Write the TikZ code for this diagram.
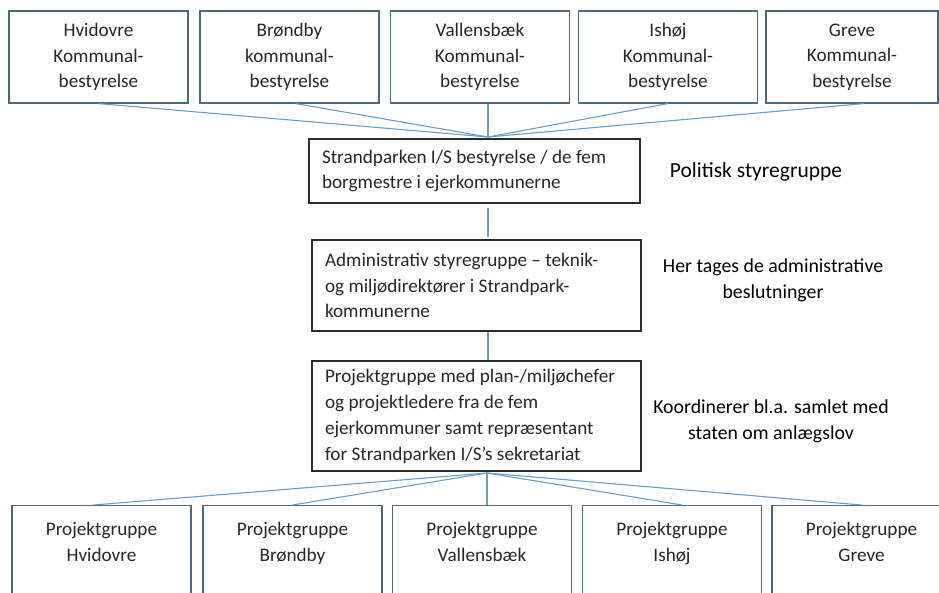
\documentclass[tikz,border=0pt]{standalone}
\usepackage{fontspec}
\setmainfont{Carlito}
\definecolor{linkblue}{HTML}{6A9AC6}
\definecolor{boxblue}{HTML}{4F6680}
\definecolor{boxdark}{HTML}{2B2B2B}
\definecolor{textdark}{HTML}{262626}
\begin{document}
\begin{tikzpicture}[x=1pt,y=-1pt,
  font=\fontsize{19.2}{25.5}\selectfont, text=textdark,
  kommune/.style={draw=boxblue, line width=1.1pt, align=center,
    minimum width=179pt, minimum height=92pt, inner sep=0pt},
  styrebox/.style={draw=boxdark, line width=1.3pt, align=flush left,
    inner xsep=13pt, inner ysep=0pt},
  gruppe/.style={draw=boxblue, line width=1.1pt, align=center, anchor=north,
    minimum width=179pt, inner xsep=0pt, inner ysep=17pt, text depth=100pt},
  note/.style={align=center, text=black, font=\fontsize{19.8}{26}\selectfont},
  link/.style={draw=linkblue, line width=1.1pt}]
\clip (0,0) rectangle (939,593);

\node[kommune] (k1) at (98.5,57) {Hvidovre\\Kommunal-\\bestyrelse};
\node[kommune] (k2) at (289.5,57) {Brøndby\\kommunal-\\bestyrelse};
\node[kommune] (k3) at (480,57) {Vallensbæk\\Kommunal-\\bestyrelse};
\node[kommune] (k4) at (668,57) {Ishøj\\Kommunal-\\bestyrelse};
\node[kommune, minimum width=172pt] (k5) at (852,57) {Greve\\Kommunal-\\bestyrelse};

\node[styrebox, text width=305pt, minimum height=64pt] (bestyrelse) at (474.5,171)
  {Strandparken I/S bestyrelse / de fem\\borgmestre i ejerkommunerne};
\node[styrebox, text width=303pt, minimum height=91pt] (admin) at (476.5,285.5)
  {Administrativ styregruppe – teknik-\\og miljødirektører i Strandpark-\\kommunerne};
\node[styrebox, text width=303pt, minimum height=110pt,
  font=\fontsize{19.2}{26}\selectfont] (projekt) at (476.5,416)
  {Projektgruppe med plan-/miljøchefer\\og projektledere fra de fem\\ejerkommuner samt repræsentant\\for Strandparken I/S’s sekretariat};

\node[note, font=\fontsize{21.5}{26}\selectfont] (politisk) at (756,172) {Politisk styregruppe};
\node[note] (beslut) at (773,280) {Her tages de administrative\\beslutninger};
\node[note] (koord) at (771,421) {Koordinerer bl.a. samlet med\\staten om anlægslov};

\node[gruppe] (g1) at (101.5,505) {Projektgruppe\\Hvidovre};
\node[gruppe] (g2) at (292.5,505) {Projektgruppe\\Brøndby};
\node[gruppe] (g3) at (482,505) {Projektgruppe\\Vallensbæk};
\node[gruppe] (g4) at (672,505) {Projektgruppe\\Ishøj};
\node[gruppe] (g5) at (861.5,505) {Projektgruppe\\Greve};

\coordinate (top) at (488,137);
\coordinate (bund) at (487,473);

\path[link] (k1.south) -- (top);
\path[link] ([xshift=6pt]k2.south) -- (top);
\path[link] (k3.south -| top) -- (top);
\path[link] (k4.south) -- (top);
\path[link] ([xshift=12pt]k5.south) -- (top);

\path[link] ([yshift=-4pt]bestyrelse.south -| top) -- ([yshift=2pt]admin.north -| top);
\path[link] (admin.south -| top) -- (projekt.north -| top);

\path[link] (bund) -- ([xshift=-8pt]g1.north);
\path[link] (bund) -- (g2.north);
\path[link] (bund) -- (g3.north -| bund);
\path[link] (bund) -- ([xshift=10pt]g4.north);
\path[link] (bund) -- (g5.north);
\end{tikzpicture}
\end{document}
